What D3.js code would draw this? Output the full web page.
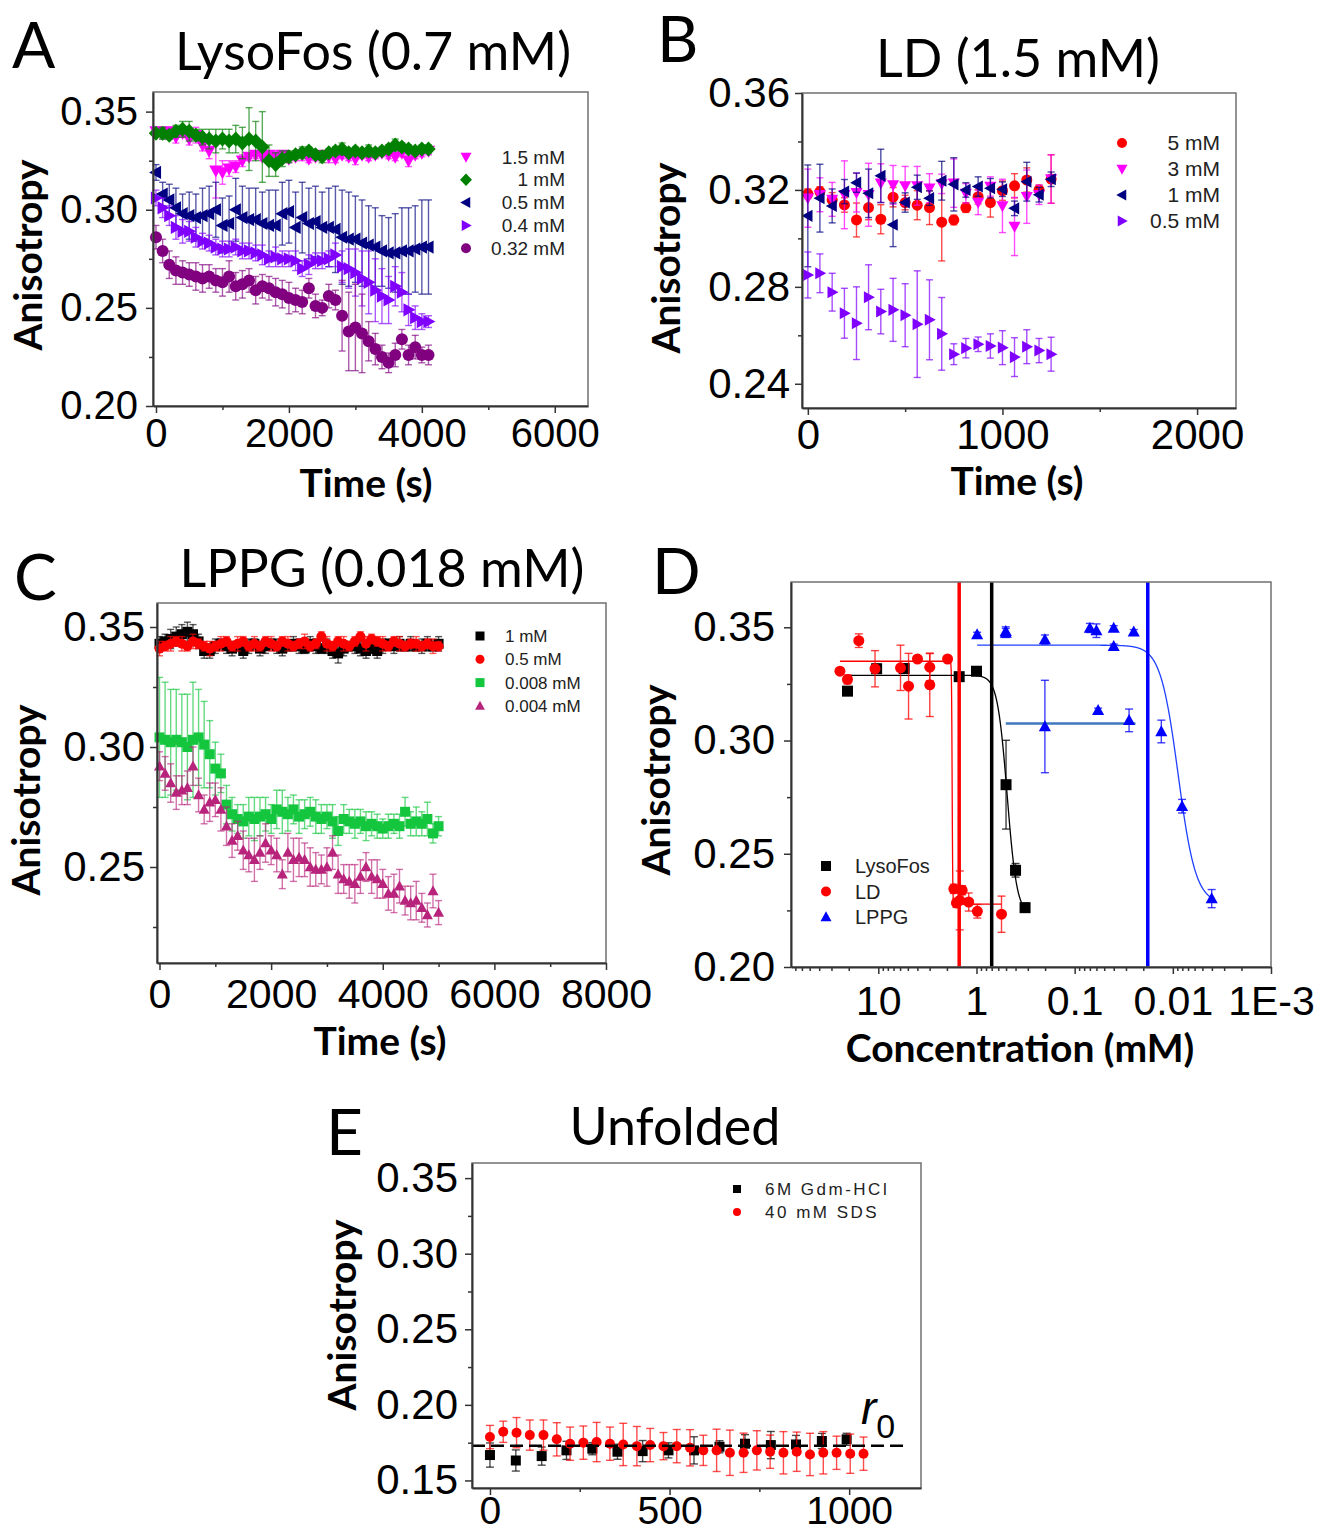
<!DOCTYPE html>
<html>
<head>
<meta charset="utf-8">
<script src="https://cdn.jsdelivr.net/npm/d3@7"></script>
<style>
  body { margin: 0; background: #fff; }
  svg { display: block; }
</style>
</head>
<body>
<div id="fig"></div>
<script>
// ---------- panel A: LysoFos time courses ----------
const timeA = [0,100,200,300,400,500,600,700,800,900,1000,1100,1200,1300,1400,1500,1600,1700,1800,1900,2000,2100,2200,2300,2400,2500,2600,2700,2800,2900,3000,3100,3200,3300,3400,3500,3600,3700,3800,3900,4000,4100];
const lyso15 = [0.340,0.339,0.340,0.337,0.339,0.336,0.338,0.333,0.330,0.320,0.319,0.321,0.322,0.325,0.327,0.328,0.327,0.328,0.327,0.328,0.326,0.327,0.328,0.326,0.327,0.328,0.327,0.326,0.328,0.327,0.326,0.328,0.327,0.328,0.329,0.328,0.327,0.329,0.325,0.328,0.329,0.330];
const lyso15Err = [0.002,0.003,0.002,0.003,0.002,0.003,0.004,0.003,0.004,0.014,0.006,0.004,0.003,0.003,0.002,0.002,0.002,0.002,0.003,0.002,0.002,0.002,0.003,0.002,0.002,0.002,0.003,0.002,0.002,0.002,0.003,0.002,0.002,0.002,0.002,0.002,0.002,0.002,0.003,0.002,0.002,0.002];
const lyso1 = [0.339,0.339,0.338,0.340,0.341,0.340,0.338,0.337,0.336,0.335,0.336,0.335,0.336,0.334,0.336,0.335,0.332,0.325,0.323,0.326,0.327,0.328,0.329,0.330,0.328,0.327,0.329,0.330,0.331,0.329,0.330,0.329,0.330,0.329,0.330,0.331,0.333,0.332,0.331,0.330,0.331,0.331];
const lyso1Err = [0.002,0.003,0.002,0.003,0.004,0.005,0.003,0.004,0.005,0.006,0.005,0.006,0.007,0.008,0.016,0.010,0.018,0.008,0.006,0.004,0.003,0.002,0.003,0.002,0.002,0.003,0.002,0.002,0.003,0.002,0.002,0.002,0.003,0.002,0.002,0.002,0.003,0.002,0.002,0.002,0.002,0.002];
const lyso05 = [0.319,0.308,0.305,0.301,0.298,0.297,0.296,0.297,0.298,0.300,0.292,0.293,0.300,0.296,0.295,0.295,0.293,0.292,0.292,0.298,0.299,0.291,0.296,0.293,0.294,0.291,0.291,0.290,0.286,0.285,0.285,0.283,0.282,0.281,0.279,0.278,0.278,0.279,0.279,0.280,0.281,0.281];
const lyso05Err = [0.004,0.006,0.008,0.010,0.010,0.012,0.012,0.014,0.014,0.014,0.014,0.014,0.016,0.016,0.016,0.016,0.016,0.018,0.018,0.016,0.016,0.018,0.018,0.018,0.018,0.018,0.020,0.022,0.024,0.024,0.022,0.022,0.020,0.020,0.018,0.018,0.020,0.022,0.022,0.022,0.024,0.024];
const lyso04 = [0.306,0.301,0.297,0.291,0.289,0.289,0.286,0.284,0.283,0.281,0.280,0.280,0.281,0.279,0.279,0.278,0.277,0.275,0.276,0.275,0.275,0.274,0.270,0.272,0.274,0.274,0.275,0.277,0.271,0.270,0.268,0.265,0.263,0.259,0.256,0.254,0.261,0.258,0.249,0.245,0.243,0.243];
const lyso04Err = [0.004,0.005,0.005,0.006,0.006,0.005,0.005,0.004,0.004,0.004,0.004,0.004,0.004,0.004,0.004,0.004,0.005,0.004,0.005,0.004,0.004,0.005,0.004,0.005,0.004,0.004,0.004,0.006,0.008,0.010,0.012,0.014,0.016,0.016,0.014,0.012,0.010,0.010,0.008,0.006,0.004,0.003];
const lyso032 = [0.286,0.279,0.272,0.269,0.268,0.267,0.266,0.265,0.266,0.264,0.263,0.266,0.261,0.262,0.264,0.259,0.261,0.260,0.258,0.257,0.255,0.254,0.253,0.260,0.251,0.250,0.256,0.254,0.246,0.238,0.240,0.237,0.233,0.229,0.225,0.222,0.226,0.234,0.226,0.230,0.226,0.226];
const lyso032Err = [0.006,0.006,0.007,0.007,0.006,0.006,0.007,0.007,0.006,0.006,0.007,0.008,0.007,0.007,0.006,0.007,0.006,0.006,0.007,0.007,0.008,0.006,0.006,0.005,0.006,0.004,0.006,0.005,0.018,0.020,0.022,0.020,0.010,0.008,0.006,0.005,0.006,0.005,0.005,0.006,0.004,0.005];

// ---------- panel B: LD time courses ----------
const timeB = [0,62,125,188,250,312,375,438,500,562,625,688,750,812,875,938,1000,1062,1125,1188,1250];
const ld5 = [0.3184,0.3193,0.3159,0.3138,0.3076,0.3127,0.3079,0.3170,0.3148,0.3137,0.3127,0.3067,0.3076,0.3127,0.3172,0.3148,0.3197,0.3217,0.3241,0.3200,0.3245];
const ld5Err = [0.002,0.002,0.003,0.003,0.007,0.005,0.006,0.004,0.003,0.006,0.007,0.016,0.002,0.002,0.003,0.006,0.004,0.005,0.005,0.002,0.010];
const ld3 = [0.3166,0.3180,0.3161,0.3180,0.3189,0.3180,0.3228,0.3221,0.3217,0.3217,0.3207,0.3225,0.3228,0.3186,0.3148,0.3214,0.3134,0.3049,0.3172,0.3180,0.3245];
const ld3Err = [0.012,0.007,0.007,0.014,0.008,0.013,0.008,0.008,0.008,0.008,0.006,0.004,0.010,0.004,0.005,0.004,0.011,0.012,0.011,0.004,0.010];
const ld1 = [0.3093,0.3166,0.3134,0.3193,0.3230,0.3186,0.3258,0.3056,0.3148,0.3211,0.3166,0.3238,0.3223,0.3200,0.3214,0.3207,0.3203,0.3124,0.3234,0.3180,0.3244];
const ld1Err = [0.021,0.014,0.007,0.005,0.004,0.010,0.011,0.009,0.004,0.005,0.003,0.008,0.011,0.003,0.004,0.004,0.003,0.003,0.008,0.003,0.003];
const ld05 = [0.2849,0.2856,0.2778,0.2691,0.2650,0.2757,0.2698,0.2705,0.2683,0.2646,0.2664,0.2606,0.2522,0.2547,0.2563,0.2556,0.2549,0.2510,0.2553,0.2537,0.2522];
const ld05Err = [0.0095,0.008,0.0078,0.0103,0.015,0.0134,0.0092,0.013,0.013,0.022,0.0165,0.015,0.0043,0.004,0.003,0.005,0.007,0.008,0.007,0.005,0.007];

// ---------- panel C: LPPG time courses ----------
const timeC = [0,100,200,300,400,500,600,700,800,900,1000,1100,1200,1300,1400,1500,1600,1700,1800,1900,2000,2100,2200,2300,2400,2500,2600,2700,2800,2900,3000,3100,3200,3300,3400,3500,3600,3700,3800,3900,4000,4100,4200,4300,4400,4500,4600,4700,4800,4900,5000];
const lppg1 = [0.343,0.344,0.345,0.346,0.347,0.348,0.347,0.344,0.340,0.340,0.342,0.343,0.342,0.341,0.342,0.340,0.342,0.343,0.341,0.342,0.343,0.342,0.341,0.342,0.343,0.342,0.341,0.343,0.342,0.341,0.342,0.340,0.339,0.341,0.342,0.342,0.341,0.340,0.341,0.340,0.342,0.343,0.342,0.343,0.342,0.343,0.342,0.342,0.343,0.342,0.343];
const lppg1Err = [0.003,0.003,0.004,0.004,0.004,0.004,0.004,0.003,0.003,0.003,0.003,0.002,0.003,0.003,0.002,0.003,0.003,0.002,0.003,0.003,0.002,0.003,0.003,0.002,0.003,0.003,0.002,0.003,0.003,0.002,0.003,0.003,0.004,0.003,0.002,0.003,0.003,0.003,0.002,0.003,0.003,0.002,0.003,0.003,0.002,0.003,0.002,0.003,0.003,0.002,0.003];
const lppg05 = [0.341,0.342,0.343,0.344,0.343,0.342,0.344,0.343,0.342,0.341,0.342,0.343,0.344,0.342,0.343,0.344,0.342,0.343,0.342,0.344,0.343,0.342,0.344,0.343,0.342,0.343,0.344,0.342,0.343,0.346,0.343,0.342,0.344,0.343,0.342,0.344,0.346,0.343,0.345,0.344,0.343,0.342,0.344,0.343,0.342,0.343,0.343,0.342,0.343,0.342,0.342];
const lppg05Err = [0.003,0.002,0.003,0.002,0.003,0.002,0.003,0.002,0.002,0.003,0.002,0.003,0.002,0.002,0.003,0.002,0.002,0.003,0.002,0.002,0.003,0.002,0.002,0.003,0.002,0.002,0.003,0.002,0.002,0.002,0.003,0.002,0.002,0.003,0.002,0.002,0.002,0.003,0.002,0.002,0.003,0.002,0.002,0.003,0.002,0.002,0.003,0.002,0.002,0.003,0.002];
const lppg008 = [0.304,0.303,0.302,0.303,0.302,0.300,0.303,0.304,0.301,0.297,0.291,0.289,0.276,0.272,0.270,0.269,0.271,0.270,0.271,0.272,0.270,0.274,0.273,0.272,0.274,0.271,0.272,0.273,0.271,0.270,0.271,0.269,0.265,0.270,0.269,0.268,0.269,0.267,0.268,0.267,0.266,0.267,0.268,0.267,0.273,0.268,0.269,0.268,0.270,0.264,0.267];
const lppg008Err = [0.025,0.024,0.022,0.021,0.020,0.022,0.024,0.020,0.018,0.014,0.011,0.008,0.008,0.007,0.006,0.007,0.008,0.009,0.008,0.007,0.006,0.008,0.009,0.007,0.006,0.007,0.006,0.006,0.007,0.006,0.005,0.007,0.006,0.006,0.005,0.006,0.005,0.006,0.005,0.005,0.004,0.005,0.004,0.005,0.006,0.005,0.006,0.005,0.007,0.004,0.004];
const lppg004 = [0.292,0.289,0.285,0.281,0.282,0.283,0.292,0.280,0.274,0.277,0.278,0.274,0.267,0.261,0.263,0.257,0.255,0.253,0.256,0.260,0.257,0.255,0.247,0.256,0.253,0.254,0.253,0.250,0.249,0.249,0.250,0.256,0.247,0.245,0.244,0.243,0.246,0.250,0.246,0.245,0.243,0.239,0.239,0.242,0.236,0.235,0.236,0.233,0.230,0.240,0.231];
const lppg004Err = [0.006,0.007,0.008,0.007,0.006,0.007,0.008,0.007,0.006,0.008,0.007,0.009,0.008,0.007,0.006,0.008,0.007,0.009,0.007,0.008,0.006,0.007,0.006,0.008,0.009,0.008,0.007,0.008,0.007,0.006,0.008,0.007,0.008,0.006,0.007,0.008,0.007,0.006,0.007,0.008,0.006,0.007,0.008,0.007,0.006,0.007,0.008,0.006,0.005,0.007,0.005];

// ---------- panel D: anisotropy vs concentration ----------
const lysoConc = [20.6, 10.4, 5.45, 1.5, 1.0, 0.50, 0.40, 0.32];
const lysoAniso = [0.3218, 0.3317, 0.3318, 0.3282, 0.3306, 0.2805, 0.2427, 0.2262];
const lysoErr = [0.001, 0.002, 0.002, 0.001, 0.001, 0.0196, 0.003, 0.002];
const ldConc = [24.6, 20.6, 15.8, 10.8, 5.94, 4.92, 3.99, 2.99, 2.99, 1.97, 1.70, 1.60, 1.48, 1.40, 1.20, 0.98, 0.556];
const ldAniso = [0.3306, 0.3270, 0.3441, 0.3317, 0.3321, 0.3240, 0.3360, 0.3324, 0.3246, 0.3360, 0.2345, 0.2283, 0.2294, 0.2339, 0.2287, 0.2246, 0.2233];
const ldErr = [0.001, 0.002, 0.003, 0.008, 0.010, 0.0145, 0.001, 0.006, 0.014, 0.001, 0.002, 0.002, 0.013, 0.002, 0.004, 0.003, 0.008];
const lppgConc = [0.985, 0.503, 0.503, 0.201, 0.070, 0.060, 0.040, 0.025, 0.040, 0.201, 0.0577, 0.0279, 0.0131, 0.00805, 0.00402];
const lppgAniso = [0.3468, 0.3482, 0.3475, 0.3446, 0.3497, 0.3485, 0.3497, 0.3480, 0.3416, 0.3062, 0.3133, 0.3089, 0.3040, 0.2710, 0.2302];
const lppgErr = [0.001, 0.002, 0.002, 0.002, 0.002, 0.003, 0.001, 0.001, 0.001, 0.0204, 0.001, 0.005, 0.005, 0.003, 0.004];
// Boltzmann fits (top, bottom, midpoint, log10 width) and their concentration span
const lysoFit = { top: 0.3288, bottom: 0.223, mid: 0.487, dx: 0.05, from: 20.6, to: 0.32 };
const ldFit = { top: 0.335, bottom: 0.2278, mid: 1.77, dx: 0.003, from: 24.6, to: 0.556 };
const lppgFit = { top: 0.3421, bottom: 0.228, mid: 0.00883, dx: 0.09, from: 0.985, to: 0.004 };
const lppgPlateau = { value: 0.3075, from: 0.503, to: 0.024 };
const cmcValues = [1.5, 0.7, 0.018];
const cmcColors = ["#ff0000", "#000000", "#0000ff"];

// ---------- panel E: unfolded controls ----------
const timeGdm = [0,72,144,213,285,355,425,497,568,639,710,782,852,924,993];
const gdm = [0.1668,0.1632,0.1661,0.1699,0.1710,0.1690,0.1694,0.1699,0.1699,0.1723,0.1743,0.1734,0.1738,0.1761,0.1772];
const gdmErr = [0.008,0.007,0.006,0.006,0.004,0.005,0.007,0.005,0.009,0.004,0.006,0.009,0.006,0.005,0.004];
const timeSds = [0,37,74,111,149,186,223,260,297,334,371,409,446,483,520,557,594,631,668,706,743,780,817,854,891,928,965,1003,1040];
const sds = [0.1787,0.1822,0.1816,0.1800,0.1800,0.1772,0.1743,0.1750,0.1754,0.1743,0.1738,0.1727,0.1734,0.1727,0.1727,0.1716,0.1699,0.1699,0.1683,0.1683,0.1699,0.1690,0.1683,0.1690,0.1672,0.1683,0.1683,0.1677,0.1677];
const sdsErr = [0.0077,0.007,0.010,0.010,0.010,0.011,0.011,0.011,0.013,0.011,0.014,0.013,0.011,0.009,0.011,0.012,0.010,0.014,0.015,0.013,0.013,0.011,0.014,0.013,0.014,0.014,0.011,0.013,0.011];
const r0 = 0.173;
const r0Span = [-50, 1155];

const W = 1321, H = 1533;
const FONT_TICK = "'Liberation Sans', Arial, sans-serif";
const FONT_HEAD = "Lato, 'Open Sans', sans-serif";

const svg = d3.select("#fig").append("svg")
    .attr("width", W)
    .attr("height", H)
    .style("background", "#fff");

function markerPath(shape, s) {
    const h = s / 2;
    switch (shape) {
        case "square": return `M${-h},${-h}H${h}V${h}H${-h}Z`;
        case "circle": return `M${-h},0A${h},${h} 0 1,0 ${h},0A${h},${h} 0 1,0 ${-h},0Z`;
        case "triUp": return `M0,${-h * 1.15}L${h * 1.1},${h * 0.85}L${-h * 1.1},${h * 0.85}Z`;
        case "triDown": return `M0,${h * 1.15}L${h * 1.1},${-h * 0.85}L${-h * 1.1},${-h * 0.85}Z`;
        case "triLeft": return `M${-h * 1.15},0L${h * 0.85},${-h * 1.1}L${h * 0.85},${h * 1.1}Z`;
        case "triRight": return `M${h * 1.15},0L${-h * 0.85},${-h * 1.1}L${-h * 0.85},${h * 1.1}Z`;
        case "diamond": return `M0,${-h * 1.25}L${h * 1.2},0L0,${h * 1.25}L${-h * 1.2},0Z`;
    }
}

function drawSeries(g, x, y, xs, ys, es, st) {
    const pts = xs.map((t, i) => ({ t, v: ys[i], e: es ? es[i] : 0 }));
    const cap = st.cap || 7;
    const eg = g.append("g")
        .attr("stroke", st.color)
        .attr("stroke-opacity", st.barOpacity || 0.6)
        .attr("stroke-width", 1.4);
    const withErr = pts.filter(d => d.e > 0);
    eg.selectAll(null).data(withErr).join("line")
        .attr("x1", d => x(d.t)).attr("x2", d => x(d.t))
        .attr("y1", d => y(d.v - d.e)).attr("y2", d => y(d.v + d.e));
    eg.selectAll(null).data(withErr).join("line")
        .attr("x1", d => x(d.t) - cap / 2).attr("x2", d => x(d.t) + cap / 2)
        .attr("y1", d => y(d.v + d.e)).attr("y2", d => y(d.v + d.e));
    eg.selectAll(null).data(withErr).join("line")
        .attr("x1", d => x(d.t) - cap / 2).attr("x2", d => x(d.t) + cap / 2)
        .attr("y1", d => y(d.v - d.e)).attr("y2", d => y(d.v - d.e));
    g.append("g").selectAll(null).data(pts).join("path")
        .attr("transform", d => `translate(${x(d.t)},${y(d.v)})`)
        .attr("d", markerPath(st.shape, st.size))
        .attr("fill", st.color);
}

function drawAxes(g, x, y, cfg) {
    const [x0, x1] = x.range();
    const [y0, y1] = y.range();
    g.append("rect")
        .attr("x", x0).attr("y", y1)
        .attr("width", x1 - x0).attr("height", y0 - y1)
        .attr("fill", "none").attr("stroke", "#707070").attr("stroke-width", 1.5);

    const styleAxis = (sel, keepDomain, size) => {
        sel.select(".domain").attr("stroke", keepDomain ? "#333" : "none").attr("stroke-width", 2);
        sel.selectAll(".tick line").attr("stroke", "#333").attr("stroke-width", 1.5);
        sel.selectAll("text")
            .attr("font-family", FONT_TICK)
            .attr("font-size", size)
            .attr("fill", "#000");
    };

    const bx = g.append("g").attr("transform", `translate(0,${y0})`)
        .call(d3.axisBottom(x).tickValues(cfg.xMajor).tickFormat((d, i) => cfg.xLabels[i])
            .tickSize(7).tickSizeOuter(0).tickPadding(cfg.xPad));
    styleAxis(bx, true, cfg.xFont || cfg.tickFont);
    const bxm = g.append("g").attr("transform", `translate(0,${y0})`)
        .call(d3.axisBottom(x).tickValues(cfg.xMinor).tickFormat("").tickSize(4).tickSizeOuter(0));
    styleAxis(bxm, false, cfg.tickFont);

    const ly = g.append("g").attr("transform", `translate(${x0},0)`)
        .call(d3.axisLeft(y).tickValues(cfg.yMajor).tickFormat((d, i) => cfg.yLabels[i])
            .tickSize(7).tickSizeOuter(0).tickPadding(cfg.yPad));
    styleAxis(ly, true, cfg.tickFont);
    const lym = g.append("g").attr("transform", `translate(${x0},0)`)
        .call(d3.axisLeft(y).tickValues(cfg.yMinor).tickFormat("").tickSize(4).tickSizeOuter(0));
    styleAxis(lym, false, cfg.tickFont);
}

function headText(g, txt, x, y, size, opts = {}) {
    const t = g.append("text")
        .attr("x", x).attr("y", y)
        .attr("font-family", FONT_HEAD)
        .attr("font-size", size)
        .attr("font-weight", opts.bold ? 700 : 400)
        .attr("text-anchor", opts.anchor || "middle")
        .attr("fill", "#000")
        .text(txt);
    if (opts.rotate) t.attr("transform", `rotate(-90,${x},${y})`);
    return t;
}

function drawLegend(g, items, lg) {
    items.forEach((it, i) => {
        const yy = lg.y0 + i * lg.dy;
        g.append("path")
            .attr("transform", `translate(${lg.mx},${yy})`)
            .attr("d", markerPath(it.shape, lg.msize))
            .attr("fill", it.color);
        g.append("text")
            .attr("x", lg.tx).attr("y", yy)
            .attr("dy", "0.35em")
            .attr("text-anchor", lg.anchor)
            .attr("font-family", FONT_TICK)
            .attr("font-size", lg.font)
            .attr("letter-spacing", lg.spacing || 0)
            .attr("fill", "#222")
            .text(it.label);
    });
}

// ================= Panel A =================
{
    const g = svg.append("g");
    const x = d3.scaleLinear([-45, 6500], [153, 588]);
    const y = d3.scaleLinear([0.20, 0.36], [406, 92]);
    const series = [
        { label: "1.5 mM", ys: lyso15, es: lyso15Err, color: "#ff00ff", shape: "triDown" },
        { label: "1 mM", ys: lyso1, es: lyso1Err, color: "#008000", shape: "diamond" },
        { label: "0.5 mM", ys: lyso05, es: lyso05Err, color: "#000080", shape: "triLeft" },
        { label: "0.4 mM", ys: lyso04, es: lyso04Err, color: "#8000ff", shape: "triRight" },
        { label: "0.32 mM", ys: lyso032, es: lyso032Err, color: "#800080", shape: "circle" }
    ];
    series.forEach(s => drawSeries(g, x, y, timeA, s.ys, s.es, { color: s.color, shape: s.shape, size: 12, cap: 7, barOpacity: 0.65 }));
    drawAxes(g, x, y, {
        xMajor: [0, 2000, 4000, 6000], xLabels: ["0", "2000", "4000", "6000"], xMinor: [1000, 3000, 5000],
        yMajor: [0.20, 0.25, 0.30, 0.35], yLabels: ["0.20", "0.25", "0.30", "0.35"], yMinor: [0.225, 0.275, 0.325],
        tickFont: 40, xPad: 6, yPad: 8
    });
    drawLegend(g, series, { mx: 466, tx: 565, anchor: "end", y0: 157, dy: 22.8, msize: 10, font: 19 });
    headText(g, "A", 12, 68, 64, { anchor: "start" });
    headText(g, "LysoFos (0.7 mM)", 373, 70, 52);
    headText(g, "Anisotropy", 42, 255, 39, { bold: true, rotate: true });
    headText(g, "Time (s)", 366, 497, 39, { bold: true });
}

// ================= Panel B =================
{
    const g = svg.append("g");
    const x = d3.scaleLinear([-30, 2200], [802, 1236]);
    const y = d3.scaleLinear([0.23, 0.36], [408, 93]);
    const series = [
        { label: "5 mM", ys: ld5, es: ld5Err, color: "#ff0000", shape: "circle" },
        { label: "3 mM", ys: ld3, es: ld3Err, color: "#ff00ff", shape: "triDown" },
        { label: "1 mM", ys: ld1, es: ld1Err, color: "#000080", shape: "triLeft" },
        { label: "0.5 mM", ys: ld05, es: ld05Err, color: "#8000ff", shape: "triRight" }
    ];
    series.forEach(s => drawSeries(g, x, y, timeB, s.ys, s.es, { color: s.color, shape: s.shape, size: 11, cap: 7, barOpacity: 0.7 }));
    drawAxes(g, x, y, {
        xMajor: [0, 1000, 2000], xLabels: ["0", "1000", "2000"], xMinor: [500, 1500],
        yMajor: [0.24, 0.28, 0.32, 0.36], yLabels: ["0.24", "0.28", "0.32", "0.36"], yMinor: [0.26, 0.30, 0.34],
        tickFont: 42, xPad: 4, yPad: 5
    });
    drawLegend(g, series, { mx: 1122, tx: 1220, anchor: "end", y0: 143, dy: 26, msize: 10, font: 21 });
    headText(g, "B", 657, 62, 64, { anchor: "start" });
    headText(g, "LD (1.5 mM)", 1018, 77, 52);
    headText(g, "Anisotropy", 680, 258, 39, { bold: true, rotate: true });
    headText(g, "Time (s)", 1017, 495, 39, { bold: true });
}

// ================= Panel C =================
{
    const g = svg.append("g");
    const x = d3.scaleLinear([-45, 8000], [157, 606]);
    const y = d3.scaleLinear([0.21, 0.36], [963, 603]);
    const series = [
        { label: "1 mM", ys: lppg1, es: lppg1Err, color: "#000000", shape: "square" },
        { label: "0.5 mM", ys: lppg05, es: lppg05Err, color: "#ff0000", shape: "circle" },
        { label: "0.008 mM", ys: lppg008, es: lppg008Err, color: "#13c63e", shape: "square" },
        { label: "0.004 mM", ys: lppg004, es: lppg004Err, color: "#b8247c", shape: "triUp" }
    ];
    series.forEach(s => drawSeries(g, x, y, timeC, s.ys, s.es, { color: s.color, shape: s.shape, size: 10, cap: 7, barOpacity: 0.65 }));
    drawAxes(g, x, y, {
        xMajor: [0, 2000, 4000, 6000, 8000], xLabels: ["0", "2000", "4000", "6000", "8000"], xMinor: [1000, 3000, 5000, 7000],
        yMajor: [0.25, 0.30, 0.35], yLabels: ["0.25", "0.30", "0.35"], yMinor: [0.225, 0.275, 0.325],
        tickFont: 42, xFont: 41, xPad: 9, yPad: 5
    });
    drawLegend(g, series, { mx: 480, tx: 505, anchor: "start", y0: 636, dy: 23.3, msize: 9, font: 17 });
    headText(g, "C", 14, 600, 64, { anchor: "start" });
    headText(g, "LPPG (0.018 mM)", 382, 587, 52);
    headText(g, "Anisotropy", 40, 800, 39, { bold: true, rotate: true });
    headText(g, "Time (s)", 380, 1055, 39, { bold: true });
}

// ================= Panel D =================
{
    const g = svg.append("g");
    const x = d3.scaleLog([77.5, 0.001], [791, 1271]);
    const y = d3.scaleLinear([0.20, 0.37], [967, 582]);
    const boltz = (p, c) => p.bottom + (p.top - p.bottom) / (1 + Math.exp((Math.log10(p.mid) - Math.log10(c)) / p.dx));
    const fitPath = p => {
        const lo = Math.log10(p.to), hi = Math.log10(p.from);
        const cs = d3.range(0, 801).map(i => Math.pow(10, hi - (hi - lo) * i / 800));
        return d3.line().x(c => x(c)).y(c => y(boltz(p, c)))(cs);
    };
    g.append("path").attr("d", fitPath(ldFit)).attr("fill", "none").attr("stroke", "#ff0000").attr("stroke-width", 1.3);
    g.append("path").attr("d", fitPath(lysoFit)).attr("fill", "none").attr("stroke", "#000").attr("stroke-width", 1.3);
    g.append("path").attr("d", fitPath(lppgFit)).attr("fill", "none").attr("stroke", "#2040ff").attr("stroke-width", 1.3);
    g.append("line")
        .attr("x1", x(lppgPlateau.from)).attr("x2", x(lppgPlateau.to))
        .attr("y1", y(lppgPlateau.value)).attr("y2", y(lppgPlateau.value))
        .attr("stroke", "#3f78be").attr("stroke-width", 2.5);

    const series = [
        { label: "LysoFos", xs: lysoConc, ys: lysoAniso, es: lysoErr, color: "#000000", shape: "square" },
        { label: "LD", xs: ldConc, ys: ldAniso, es: ldErr, color: "#ff0000", shape: "circle" },
        { label: "LPPG", xs: lppgConc, ys: lppgAniso, es: lppgErr, color: "#0000ff", shape: "triUp" }
    ];
    series.forEach(s => drawSeries(g, x, y, s.xs, s.ys, s.es, { color: s.color, shape: s.shape, size: 11, cap: 8, barOpacity: 0.75 }));

    g.append("g").selectAll(null).data(cmcValues).join("line")
        .attr("x1", d => x(d)).attr("x2", d => x(d))
        .attr("y1", y.range()[0]).attr("y2", y.range()[1])
        .attr("stroke", (d, i) => cmcColors[i])
        .attr("stroke-width", 3.5);

    const minor = [];
    [-3, -2, -1, 0, 1].forEach(k => {
        for (let m = 2; m <= 9; m++) {
            const v = m * Math.pow(10, k);
            if (v < 77.5) minor.push(v);
        }
    });
    drawAxes(g, x, y, {
        xMajor: [10, 1, 0.1, 0.01, 0.001], xLabels: ["10", "1", "0.1", "0.01", "1E-3"], xMinor: minor,
        yMajor: [0.20, 0.25, 0.30, 0.35], yLabels: ["0.20", "0.25", "0.30", "0.35"], yMinor: [0.225, 0.275, 0.325],
        tickFont: 42, xFont: 41, xPad: 12, yPad: 9
    });
    drawLegend(g, series, { mx: 826, tx: 855, anchor: "start", y0: 866, dy: 25.5, msize: 10, font: 20 });
    headText(g, "D", 652, 594, 64, { anchor: "start" });
    headText(g, "Anisotropy", 670, 780, 39, { bold: true, rotate: true });
    headText(g, "Concentration (mM)", 1020, 1062, 39, { bold: true });
}

// ================= Panel E =================
{
    const g = svg.append("g");
    const x = d3.scaleLinear([-50, 1200], [472, 921]);
    const y = d3.scaleLinear([0.145, 0.36], [1488, 1163]);
    const series = [
        { label: "6M Gdm-HCl", xs: timeGdm, ys: gdm, es: gdmErr, color: "#000000", shape: "square" },
        { label: "40 mM SDS", xs: timeSds, ys: sds, es: sdsErr, color: "#ff0000", shape: "circle" }
    ];
    series.forEach(s => drawSeries(g, x, y, s.xs, s.ys, s.es, { color: s.color, shape: s.shape, size: 10, cap: 8, barOpacity: 0.7 }));
    g.append("line")
        .attr("x1", x(r0Span[0])).attr("x2", x(r0Span[1]))
        .attr("y1", y(r0)).attr("y2", y(r0))
        .attr("stroke", "#000").attr("stroke-width", 2.5)
        .attr("stroke-dasharray", "13 6");
    drawAxes(g, x, y, {
        xMajor: [0, 500, 1000], xLabels: ["0", "500", "1000"], xMinor: [250, 750],
        yMajor: [0.15, 0.20, 0.25, 0.30, 0.35], yLabels: ["0.15", "0.20", "0.25", "0.30", "0.35"], yMinor: [0.175, 0.225, 0.275, 0.325],
        tickFont: 42, xFont: 39, xPad: 1, yPad: 7
    });
    drawLegend(g, series, { mx: 737, tx: 765, anchor: "start", y0: 1189, dy: 23, msize: 8, font: 17, spacing: 2.5 });
    const r = g.append("text")
        .attr("x", 861).attr("y", 1424)
        .attr("font-family", FONT_TICK)
        .attr("fill", "#000");
    r.append("tspan").attr("font-size", 46).attr("font-style", "italic").text("r");
    r.append("tspan").attr("font-size", 34).attr("dy", 14).text("0");
    headText(g, "E", 326, 1155, 64, { anchor: "start" });
    headText(g, "Unfolded", 675, 1145, 52);
    headText(g, "Anisotropy", 356, 1315, 39, { bold: true, rotate: true });
}
</script>
</body>
</html>
